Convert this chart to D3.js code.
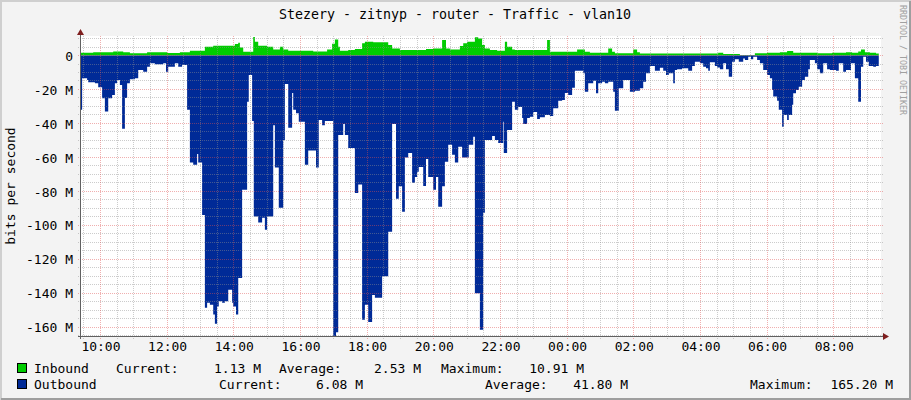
<!DOCTYPE html>
<html><head><meta charset="utf-8">
<script src="https://cdn.jsdelivr.net/npm/d3@7"></script>
<style>
html,body{margin:0;padding:0;background:#f0f0f0;}
svg{display:block;}
text{font-family:"DejaVu Sans Mono",monospace;}
</style></head><body>
<svg id="chart" width="911" height="400"></svg>
<script>
// ---------------- data ----------------
const chartTitle = "Stezery - zitnyp - router - Traffic - vlan10";
const yAxisTitle = "bits per second";
const watermark = "RRDTOOL / TOBI OETIKER";
const windowStartHour = 9, windowStartMinute = 25;   // left edge of the graph
const windowLengthMinutes = 1440;                      // 24 h shown
const yTicks = [0, -20, -40, -60, -80, -100, -120, -140, -160];
const yMin = -165.2, yMax = 11.5;                      // Mbit/s

// minutes after window start at which each 5-min step begins, and its value (Mbit/s)
const outTimes = [0,2,11,13,25,31,38,43,49,56,61,65,70,74,79,83,88,97,103,112,119,124,133,148,153,157,169,175,182,191,196,202,209,211,218,223,227,232,238,241,245,248,254,259,265,272,274,279,283,290,299,302,308,311,319,326,331,335,346,349,356,364,367,373,380,382,387,392,403,409,423,428,434,439,454,459,463,472,475,481,493,499,506,511,517,524,529,542,553,560,567,572,578,583,589,596,601,605,608,616,621,625,634,639,643,650,655,661,668,673,679,686,698,706,709,718,724,727,740,745,751,760,761,767,776,781,787,794,796,803,808,814,821,826,835,844,850,859,866,871,877,884,889,904,907,913,922,927,931,938,943,949,958,961,968,976,988,997,1006,1012,1017,1024,1033,1042,1048,1053,1058,1066,1069,1073,1082,1093,1100,1105,1114,1120,1125,1129,1132,1141,1145,1150,1156,1161,1166,1172,1177,1184,1192,1195,1201,1206,1210,1217,1222,1228,1235,1240,1244,1246,1253,1256,1262,1265,1271,1274,1280,1282,1287,1292,1298,1303,1309,1312,1321,1325,1330,1336,1343,1348,1359,1364,1372,1377,1386,1393,1399,1404,1408,1413,1418,1426,1431,1436];
const outValues = [-32,-13.4,-14.4,-15.8,-16.4,-18.7,-25.2,-33,-25.2,-23.2,-16.4,-14.4,-17.4,-43.2,-25,-16.4,-14,-13.4,-8.5,-9.5,-6.6,-4.6,-5.2,-4.6,-9.5,-6.6,-4.6,-6.6,-5.6,-32,-63,-64.4,-58,-63,-94,-148.5,-145.6,-146.8,-152.6,-158,-147.8,-144.8,-145.6,-144.8,-138,-145.6,-147.8,-152.6,-131,-79,-27.2,-11.5,-38.5,-94.8,-98.3,-95.6,-102.6,-94.8,-41,-66,-89.7,-49.7,-16.8,-42.5,-22,-32,-34,-39,-64.4,-56,-66,-38,-41,-38.5,-165.2,-163,-46.8,-40.3,-46.8,-54.4,-81,-76,-155.6,-146.8,-157,-141,-142.6,-130,-103.8,-40.3,-84.4,-77,-92,-60,-57.4,-75,-71.5,-68.5,-65.6,-76.8,-60.9,-71.5,-79,-71.5,-89,-77,-62.6,-52.6,-58.5,-63,-53.8,-60,-52.6,-47.9,-140,-161.5,-92.6,-49.7,-47.4,-49.7,-51.5,-39,-57.4,-43.8,-27.2,-32,-30.3,-36.8,-40.3,-36.8,-36,-33.2,-37.4,-36.3,-35,-35.6,-31,-26.6,-26.2,-22,-23.2,-19,-9,-10.5,-21.3,-16.4,-14.8,-22.2,-16.4,-15.4,-16.4,-15.4,-21.3,-32.5,-19.3,-14.4,-21.3,-20.7,-19.3,-15.4,-10.5,-6.2,-8.9,-7.2,-8.9,-11.5,-10.5,-16.4,-8.5,-8.1,-7.5,-8.9,-6.2,-3.6,-4.6,-6.6,-7.5,-8.9,-4,-6.2,-7,-8.1,-4.6,-8.1,-12.5,-3.6,-2.2,-3.6,-1.7,-2.6,-0.7,-2.2,-0.7,-2.6,-4.6,-8.5,-11.5,-13.4,-20.3,-24.2,-26.6,-32,-41.9,-35,-38,-35,-29,-22.2,-20.3,-18.4,-14.4,-12.5,-8.1,-2.6,-4.6,-8.1,-10.5,-4.6,-8.1,-8.5,-8.9,-4.6,-9.5,-8.5,-4.6,-13.4,-27.2,-6.6,-0.7,-3.6,-6.2,-6.6,-6.1,-6.1];

const inTimes = [0,22,58,76,88,119,155,178,196,223,238,277,283,286,292,310,313,319,335,346,358,364,373,418,443,452,457,463,466,481,493,506,511,526,553,560,574,621,634,650,657,664,682,688,695,709,715,722,727,736,749,763,767,776,781,839,844,893,907,916,949,956,961,994,1001,1006,1147,1156,1186,1213,1235,1258,1271,1282,1325,1352,1377,1388,1399,1404,1411,1420,1431,1436];
const inValues = [1.6,2.0,2.4,2.0,1.3,1.9,1.5,1.9,2.8,5.2,5.8,6.8,7.5,4.8,2.2,10.91,8.1,5.8,5.2,3.6,5.2,3.6,2.8,2.4,3.6,6.9,9.5,5.2,2.8,3.2,3.8,7.2,8.1,7.8,6.2,4.2,3.2,3.8,4.2,9.1,4.2,3.6,5.6,7.2,8.1,10.7,10.1,6.2,4.2,3.2,2.8,8.1,5.2,3.6,3.2,9.1,2.2,3.6,2.2,1.6,4.2,2.2,1.3,3.6,2.0,1.2,1.6,0.9,0.3,1.3,1.6,2.0,2.6,1.6,1.3,1.6,2.0,1.6,2.4,3.6,2.0,1.6,1.13,1.13];

const legendNames = ["Inbound", "Outbound"];
const legendColors = ["#00CC00", "#002A97"];
const legendCurrent = ["1.13 M", "6.08 M"];
const legendAverage = ["2.53 M", "41.80 M"];
const legendMaximum = ["10.91 M", "165.20 M"];

// ---------------- drawing ----------------
const W = 911, H = 400;
const svg = d3.select("#chart");
const start = new Date(2024, 0, 1, windowStartHour, windowStartMinute);
const end = d3.timeMinute.offset(start, windowLengthMinutes);
const t = m => d3.timeMinute.offset(start, m);

const x = d3.scaleTime().domain([start, end]).range([81, 881]);
const y = d3.scaleLinear().domain([yMin, yMax]).range([336, 36]);

// background & 3D frame
svg.append("rect").attr("width", W).attr("height", H).attr("fill", "#F3F3F3");
svg.append("path").attr("d", `M1,${H} V1 H${W}`).attr("stroke", "#CFCFCF").attr("stroke-width", 2).attr("fill", "none");
svg.append("path").attr("d", `M1,${H-1} H${W-1} V1`).attr("stroke", "#9E9E9E").attr("stroke-width", 2).attr("fill", "none");

// canvas
svg.append("rect").attr("x", x.range()[0]).attr("y", y.range()[1])
  .attr("width", x.range()[1] - x.range()[0]).attr("height", y.range()[0] - y.range()[1])
  .attr("fill", "#FFFFFF");

const inData = inTimes.map((m, i) => ({ t: t(m), v: inValues[i] }));
const outData = outTimes.map((m, i) => ({ t: t(m), v: outValues[i] }));

const area = d3.area().curve(d3.curveStepAfter)
  .x(d => x(d.t)).y0(y(0)).y1(d => y(d.v));

svg.append("path").datum(inData).attr("d", area).attr("fill", legendColors[0]);
svg.append("path").datum(outData).attr("d", area).attr("fill", legendColors[1]);

// grid (drawn on top, semi-transparent, dotted)
const gMinor = "rgba(143,143,143,0.46)", gMajor = "rgba(222,80,80,0.46)";
const grid = svg.append("g").attr("shape-rendering", "crispEdges");
const majorX = x.ticks(d3.timeHour.every(2));
const minorX = x.ticks(d3.timeMinute.every(30)).filter(d => !(d.getMinutes() === 0 && d.getHours() % 2 === 0));
const minorY = d3.range(0, yMin, -5).filter(v => v % 20 !== 0);
minorY.push(...d3.range(5, yMax, 5));
const x0 = x.range()[0], x1 = x.range()[1], yb = y.range()[0], yt = y.range()[1];
grid.selectAll(".vmin").data(minorX).join("line")
  .attr("x1", d => Math.floor(x(d)) + 0.5).attr("x2", d => Math.floor(x(d)) + 0.5)
  .attr("y1", yt).attr("y2", yb + 3).attr("stroke", gMinor).attr("stroke-dasharray", "1,1");
grid.selectAll(".hmin").data(minorY).join("line")
  .attr("y1", d => Math.floor(y(d)) + 0.5).attr("y2", d => Math.floor(y(d)) + 0.5)
  .attr("x1", x0 - 3).attr("x2", x1 + 2).attr("stroke", gMinor).attr("stroke-dasharray", "1,1");
grid.selectAll(".vmaj").data(majorX).join("line")
  .attr("x1", d => Math.floor(x(d)) + 0.5).attr("x2", d => Math.floor(x(d)) + 0.5)
  .attr("y1", yt).attr("y2", yb + 3).attr("stroke", gMajor).attr("stroke-dasharray", "1,1");
grid.selectAll(".hmaj").data(yTicks).join("line")
  .attr("y1", d => Math.floor(y(d)) + 0.5).attr("y2", d => Math.floor(y(d)) + 0.5)
  .attr("x1", x0 - 3).attr("x2", x1 + 2).attr("stroke", gMajor).attr("stroke-dasharray", "1,1");

// axes lines & arrows
const axisCol = "#606060", arrowCol = "#7F1F1F";
svg.append("line").attr("x1", x0 - 0.5).attr("x2", x0 - 0.5).attr("y1", yb + 3).attr("y2", yt - 4)
  .attr("stroke", axisCol).attr("shape-rendering", "crispEdges");
svg.append("line").attr("x1", x0 - 3).attr("x2", x1 + 3).attr("y1", yb + 0.5).attr("y2", yb + 0.5)
  .attr("stroke", axisCol).attr("shape-rendering", "crispEdges");
svg.append("path").attr("d", `M${x0-4},${yt-1} L${x0+3},${yt-1} L${x0-0.5},${yt-7} Z`).attr("fill", arrowCol);
svg.append("path").attr("d", `M${x1+2},${yb-3} L${x1+2},${yb+4} L${x1+8},${yb+0.5} Z`).attr("fill", arrowCol);

// axis labels via d3 axes
const fs = 13;
const yAxis = d3.axisLeft(y).tickValues(yTicks).tickSize(0).tickPadding(0)
  .tickFormat(v => v === 0 ? "0" : `${v} M`);
const gy = svg.append("g").attr("transform", `translate(73,0)`).call(yAxis);
gy.select(".domain").remove();
gy.selectAll("text").attr("font-family", "DejaVu Sans Mono").attr("font-size", fs).attr("fill", "#000").attr("dy", "0.36em");

const xAxis = d3.axisBottom(x).ticks(d3.timeHour.every(2)).tickSize(0).tickPadding(0)
  .tickFormat(d3.timeFormat("%H:%M"));
const gx = svg.append("g").attr("transform", `translate(0,342)`).call(xAxis);
gx.select(".domain").remove();
gx.selectAll("text").attr("font-family", "DejaVu Sans Mono").attr("font-size", fs).attr("fill", "#000");

// titles
svg.append("text").attr("x", 455).attr("y", 19).attr("text-anchor", "middle")
  .attr("font-size", 13.3).attr("fill", "#000").text(chartTitle);
svg.append("text").attr("transform", "translate(15,186) rotate(-90)").attr("text-anchor", "middle")
  .attr("font-size", fs).attr("fill", "#000").text(yAxisTitle);
svg.append("text").attr("transform", "translate(900,5) rotate(90)").attr("text-anchor", "start")
  .attr("font-size", 8.3).attr("fill", "#A0A0A0").text(watermark);

// legend
const rows = [
  { by: 372.5, name: legendNames[0], color: legendColors[0],
    parts: [["Current:", 116, "start"], [legendCurrent[0], 261, "end"], ["Average:", 279, "start"], [legendAverage[0], 421, "end"], ["Maximum:", 441, "start"], [legendMaximum[0], 584, "end"]] },
  { by: 388.5, name: legendNames[1], color: legendColors[1],
    parts: [["Current:", 219, "start"], [legendCurrent[1], 363, "end"], ["Average:", 485, "start"], [legendAverage[1], 628, "end"], ["Maximum:", 750, "start"], [legendMaximum[1], 893, "end"]] }
];
rows.forEach(r => {
  svg.append("rect").attr("x", 17.5).attr("y", r.by - 9).attr("width", 9).attr("height", 9)
    .attr("fill", r.color).attr("stroke", "#000").attr("stroke-width", 1);
  svg.append("text").attr("x", 34).attr("y", r.by).attr("font-size", fs).attr("fill", "#000").text(r.name);
  r.parts.forEach(p => {
    svg.append("text").attr("x", p[1]).attr("y", r.by).attr("text-anchor", p[2])
      .attr("font-size", fs).attr("fill", "#000").attr("xml:space", "preserve").text(p[0]);
  });
});
</script>
</body></html>
